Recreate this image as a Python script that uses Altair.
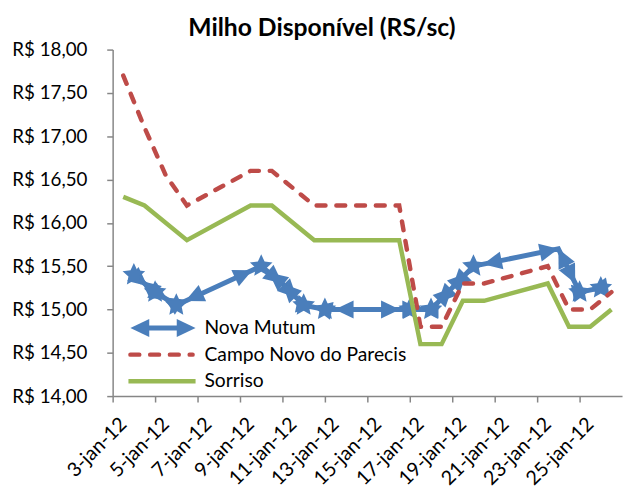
import math
import altair as alt
import pandas as pd

TITLE = "Milho Disponível (RS/sc)"
SERIES = ["Nova Mutum", "Campo Novo do Parecis", "Sorriso"]
COLORS = ["#4A7EBB", "#BE4B48", "#98B954"]

# Nova Mutum (plotted half a day to the right, as in the original)
nm_dates = ["2012-01-03", "2012-01-04", "2012-01-05", "2012-01-09", "2012-01-10",
            "2012-01-11", "2012-01-12", "2012-01-16", "2012-01-17", "2012-01-18",
            "2012-01-19", "2012-01-23", "2012-01-24", "2012-01-25"]
nm_values = [15.40, 15.20, 15.05, 15.50, 15.30, 15.05, 15.00, 15.00, 15.00, 15.25,
             15.50, 15.70, 15.20, 15.25]
nm_star = [True, True, True, True, False, True, True, True, True, False,
           True, False, True, True]

# Campo Novo do Parecis
cn_dates = ["2012-01-03", "2012-01-04", "2012-01-05", "2012-01-06", "2012-01-09",
            "2012-01-10", "2012-01-12", "2012-01-16", "2012-01-17", "2012-01-18",
            "2012-01-19", "2012-01-20", "2012-01-23", "2012-01-24", "2012-01-25",
            "2012-01-26"]
cn_values = [17.70, 17.10, 16.55, 16.20, 16.60, 16.60, 16.20, 16.20, 14.80, 14.80,
             15.30, 15.30, 15.50, 15.00, 15.00, 15.20]

# Sorriso
so_dates = ["2012-01-03", "2012-01-04", "2012-01-06", "2012-01-09", "2012-01-10",
            "2012-01-12", "2012-01-16", "2012-01-17", "2012-01-18", "2012-01-19",
            "2012-01-20", "2012-01-23", "2012-01-24", "2012-01-25", "2012-01-26"]
so_values = [16.30, 16.20, 15.80, 16.20, 16.20, 15.80, 15.80, 14.60, 14.60, 15.10,
             15.10, 15.30, 14.80, 14.80, 15.00]

x_tick_days = [3, 5, 7, 9, 11, 13, 15, 17, 19, 21, 23, 25]
x_label_suffix = "-jan-12"
y_ticks = [14.0, 14.5, 15.0, 15.5, 16.0, 16.5, 17.0, 17.5, 18.0]

FONT = "Lato"
W, H = 516, 351
X_DOMAIN = [2.5, 26.5]
Y_DOMAIN = [14.0, 18.0]
NM_SHIFT = 0.5
SX = W / (X_DOMAIN[1] - X_DOMAIN[0])
SY = H / (Y_DOMAIN[1] - Y_DOMAIN[0])
HALF = SX / 2
STAR_GAP = 10
HEAD_SIZE = 330
STAR_SIZE = 580

ARROW_PATH = "M0,0L-2.1,-1L-2.1,1Z"
pts = []
for k in range(10):
    a = math.radians(-90 + 36 * k)
    r = 1.0 if k % 2 == 0 else 0.48
    pts.append(f"{r * math.cos(a):.3f},{r * math.sin(a):.3f}")
STAR_PATH = "M" + "L".join(pts) + "Z"


def days(ds):
    return [pd.Timestamp(d).day for d in ds]


nm = pd.DataFrame({"x": [d + NM_SHIFT for d in days(nm_dates)], "y": nm_values, "star": nm_star})
cn = pd.DataFrame({"x": days(cn_dates), "y": cn_values})
so = pd.DataFrame({"x": days(so_dates), "y": so_values})

# arrow heads at both ends of every Nova Mutum segment
heads = []
for i in range(len(nm) - 1):
    ax, ay, bx, by = nm.x[i], nm.y[i], nm.x[i + 1], nm.y[i + 1]
    dxp = (bx - ax) * SX
    dyp = -(by - ay) * SY
    L = math.hypot(dxp, dyp)
    ux, uy = dxp / L, dyp / L
    ang = math.degrees(math.atan2(uy, ux)) % 360
    gb = STAR_GAP if nm.star[i + 1] else 0
    heads.append({"x": bx - ux * gb / SX, "y": by + uy * gb / SY, "angle": ang})
    ga = STAR_GAP if nm.star[i] else 0
    heads.append({"x": ax + ux * ga / SX, "y": ay - uy * ga / SY, "angle": (ang + 180) % 360})
heads = pd.DataFrame(heads)

x_axis = alt.Axis(values=x_tick_days, labelExpr=f"datum.value + '{x_label_suffix}'",
                  labelAngle=315, labelAlign="right", labelBaseline="middle",
                  tickOffset=-HALF, labelOffset=HALF, labelPadding=19, tickSize=6,
                  labelFontSize=20, labelOverlap=False, labelFlush=False,
                  grid=False, title=None)
y_axis = alt.Axis(values=y_ticks, labelExpr="'R$ ' + replace(format(datum.value, '.2f'), '.', ',')",
                  tickSize=6, labelPadding=20, labelOverlap=False, grid=False, title=None)

X = alt.X("x:Q", scale=alt.Scale(domain=X_DOMAIN, nice=False, zero=False), axis=x_axis)
Y = alt.Y("y:Q", scale=alt.Scale(domain=Y_DOMAIN, nice=False, zero=False), axis=y_axis)

nm_line = alt.Chart(nm).mark_line(color=COLORS[0], strokeWidth=5).encode(x=X, y=Y)
nm_heads = alt.Chart(heads).mark_point(shape=ARROW_PATH, size=HEAD_SIZE, filled=True, opacity=1,
                                       color=COLORS[0], strokeWidth=0).encode(
    x=X, y=Y, angle=alt.Angle("angle:Q", scale=None))
nm_stars = alt.Chart(nm[nm.star]).mark_point(shape=STAR_PATH, size=STAR_SIZE, filled=True, opacity=1,
                                             color=COLORS[0], strokeWidth=0).encode(x=X, y=Y)
cn_line = alt.Chart(cn).mark_line(color=COLORS[1], strokeWidth=4.5, strokeDash=[9, 11],
                                  strokeCap="round").encode(x=X, y=Y)
so_line = alt.Chart(so).mark_line(color=COLORS[2], strokeWidth=4.5).encode(x=X, y=Y)

# legend (inside plot, lower left)
one = pd.DataFrame({"k": [0]})
LEG_Y = [282, 309, 336]
LEG_TX = 93
leg = []
leg.append(alt.Chart(one).mark_rule(color=COLORS[0], strokeWidth=5).encode(
    x=alt.value(28), x2=alt.value(74), y=alt.value(LEG_Y[0])))
leg.append(alt.Chart(one).mark_point(shape=ARROW_PATH, size=HEAD_SIZE, filled=True, opacity=1,
                                     color=COLORS[0], strokeWidth=0, angle=0).encode(
    x=alt.value(84), y=alt.value(LEG_Y[0])))
leg.append(alt.Chart(one).mark_point(shape=ARROW_PATH, size=HEAD_SIZE, filled=True, opacity=1,
                                     color=COLORS[0], strokeWidth=0, angle=180).encode(
    x=alt.value(18), y=alt.value(LEG_Y[0])))
leg.append(alt.Chart(one).mark_rule(color=COLORS[1], strokeWidth=4.5, strokeDash=[9, 11],
                                    strokeCap="round").encode(
    x=alt.value(18), x2=alt.value(81), y=alt.value(LEG_Y[1])))
leg.append(alt.Chart(one).mark_rule(color=COLORS[2], strokeWidth=4.5).encode(
    x=alt.value(16), x2=alt.value(84), y=alt.value(LEG_Y[2])))
for name, yy in zip(SERIES, LEG_Y):
    leg.append(alt.Chart(one).mark_text(text=name, font=FONT, fontSize=19.5, align="left",
                                        baseline="middle", color="black").encode(
        x=alt.value(LEG_TX), y=alt.value(yy)))

chart = alt.layer(nm_line, nm_heads, nm_stars, cn_line, so_line, *leg).properties(
    width=W, height=H,
    title=alt.TitleParams(TITLE, font=FONT, fontSize=25, fontWeight="bold", anchor="middle",
                          dx=-46, offset=0, color="black"),
    autosize=alt.AutoSizeParams(type="none"),
    padding={"left": 106, "top": 39, "right": 3, "bottom": 93},
).configure_view(stroke=None).configure_axis(
    domainColor="#868686", tickColor="#868686", domainWidth=1.5, tickWidth=1.5,
    labelColor="black", labelFont=FONT, labelFontSize=19,
)

chart.save("out.html", embed_options={"renderer": "svg", "actions": False})
